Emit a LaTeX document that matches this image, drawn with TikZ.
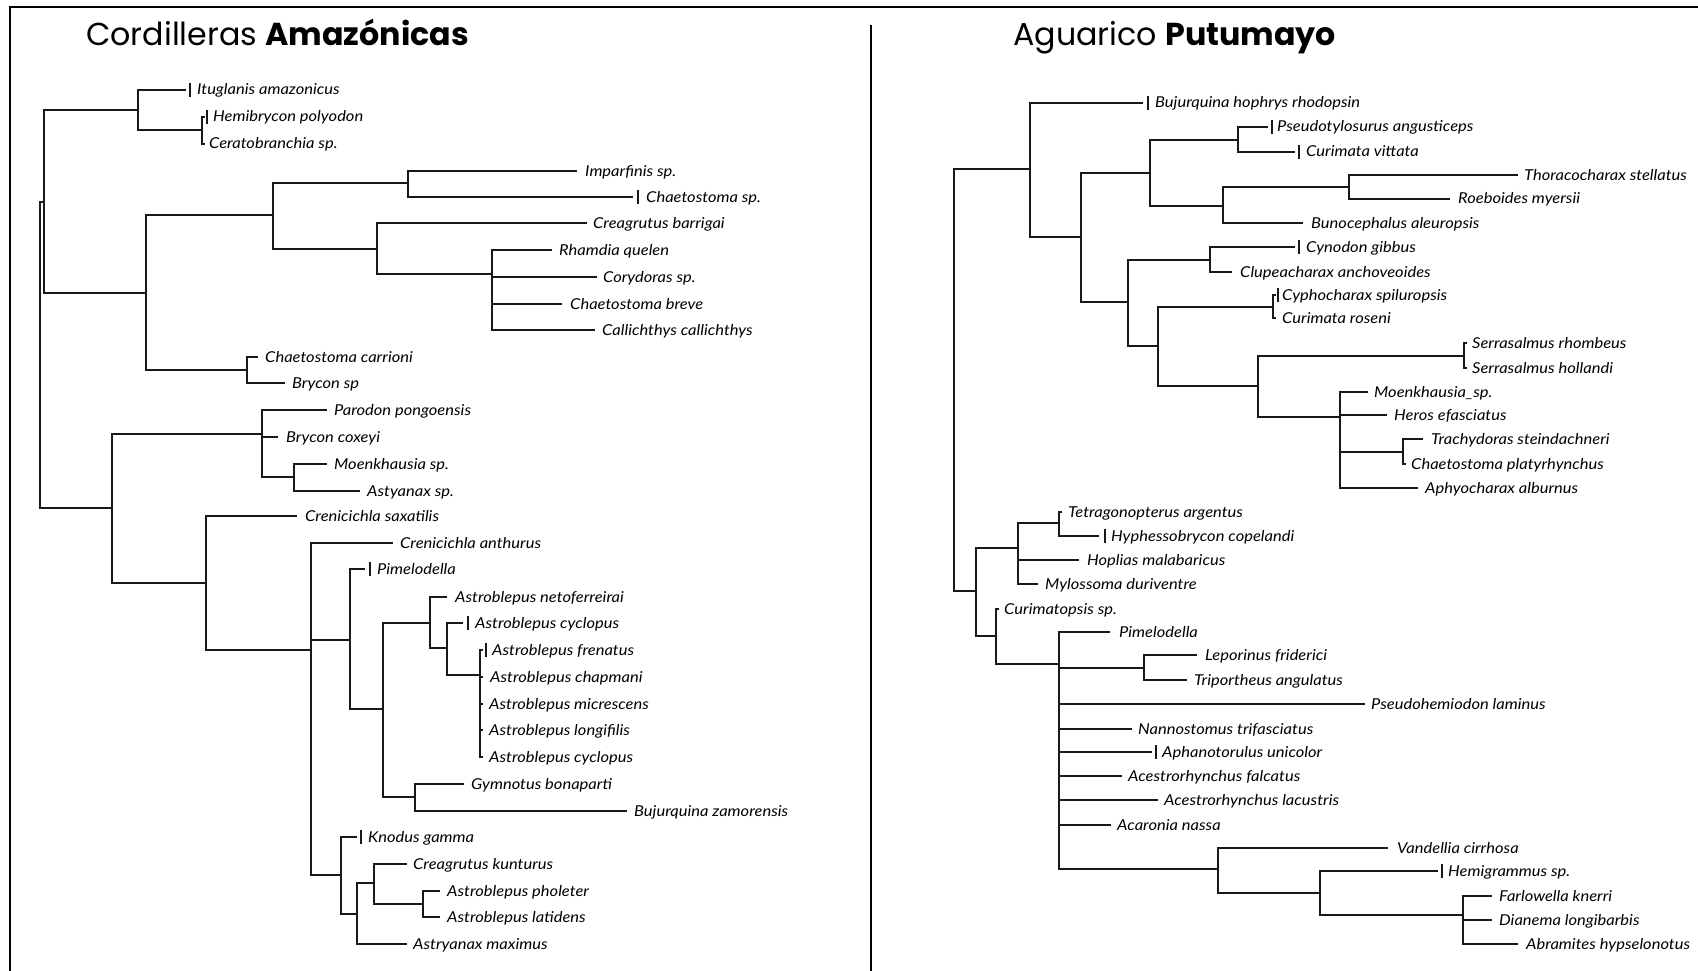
\documentclass[tikz,border=0pt]{standalone}
\usepackage{fontspec}
\newfontfamily\latofam[FakeStretch=1.1]{Lato}
\newfontfamily\poppfam{Poppins}
\newcommand{\leafX}[6]{\coordinate (#2e) at (#3,#4); \draw[br] (#1) |- (#2e); \node[lbl] (#2) at (#5,#4+5) {#6};}
\newcommand{\cladeX}[4]{\coordinate (#2) at (#3,#4); \draw[br] (#1) |- (#2);}
\newcommand{\tickX}[3]{\node[tickm] (#1) at (#2,#3) {};}
\begin{document}
\begin{tikzpicture}[x=1pt,y=-1pt,
  br/.style={line width=1.8pt, draw=black!90},
  frame/.style={line width=2.4pt, draw=black},
  lbl/.style={anchor=base west, inner sep=0pt, font=\latofam\itshape\fontsize{15}{17}\selectfont},
  tickm/.style={fill=black!90, inner sep=0pt, minimum width=1.8pt, minimum height=14pt, rectangle},
  ttl/.style={anchor=base west, inner sep=0pt, font=\poppfam\fontsize{31.7}{38}\selectfont}]
\useasboundingbox (0,0) rectangle (1698,971);
\fill[white] (0,0) rectangle (1698,971);
% frame
\coordinate (f1) at (10,971); \coordinate (f2) at (10,7); \coordinate (f3) at (1698,7);
\coordinate (d1) at (871,25); \coordinate (d2) at (871,971);
\draw[frame] (f1) -- (f2) -- (f3);
\draw[frame] (d1) -- (d2);
% titles
\node[ttl] (t1) at (86,46) {Cordilleras \textbf{Amazónicas}};
\node[ttl] (t2) at (1013,46) {Aguarico \textbf{Putumayo}};
% ================= left tree
\coordinate (R) at (40,355);
\cladeX{R}{A}{44}{202}
\cladeX{A}{B}{138}{110}
\leafX{B}{itu}{186}{90}{197}{Ituglanis amazonicus}
\tickX{k1}{190}{90}
\cladeX{B}{C}{202}{130}
\leafX{C}{hem}{205}{117}{213}{Hemibrycon polyodon}
\tickX{k2}{207}{117}
\leafX{C}{cer}{205}{144}{209}{Ceratobranchia sp.}
\cladeX{A}{D}{146}{293}
\cladeX{D}{E}{273}{215}
\cladeX{E}{F}{408}{183}
\leafX{F}{imp}{577}{171}{585}{Imparfinis sp.}
\leafX{F}{chs}{633}{197}{646}{Chaetostoma sp.}
\tickX{k3}{638}{197}
\cladeX{E}{G}{377}{249}
\leafX{G}{cba}{587}{223}{593}{Creagrutus barrigai}
\cladeX{G}{H}{492}{274}
\leafX{H}{rha}{552}{250}{559}{Rhamdia quelen}
\leafX{H}{cor}{597}{277}{603}{Corydoras sp.}
\leafX{H}{cbr}{562}{304}{570}{Chaetostoma breve}
\leafX{H}{cal}{595}{330}{602}{Callichthys callichthys}
\cladeX{D}{I}{247}{370}
\leafX{I}{cca}{258}{357}{265}{Chaetostoma carrioni}
\leafX{I}{bsp}{285}{383}{292}{Brycon sp}
\cladeX{R}{J}{112}{508}
\cladeX{J}{K}{262}{434}
\leafX{K}{par}{327}{410}{334}{Parodon pongoensis}
\leafX{K}{bco}{278}{437}{286}{Brycon coxeyi}
\cladeX{K}{L}{294}{477}
\leafX{L}{moe}{327}{464}{334}{Moenkhausia sp.}
\leafX{L}{ast}{360}{491}{367}{Astyanax sp.}
\cladeX{J}{M}{206}{583}
\leafX{M}{csa}{297}{516}{305}{Crenicichla saxatilis}
\cladeX{M}{N}{311}{650}
\leafX{N}{can}{393}{543}{400}{Crenicichla anthurus}
\cladeX{N}{O}{350}{640}
\leafX{O}{pim}{365}{569}{377}{Pimelodella}
\tickX{k4}{370}{569}
\cladeX{O}{P}{383}{709}
\cladeX{P}{Q}{430}{623}
\leafX{Q}{ane}{447}{597}{455}{Astroblepus netoferreirai}
\cladeX{Q}{S}{447}{648}
\leafX{S}{acy}{463}{623}{475}{Astroblepus cyclopus}
\tickX{k5}{468}{623}
\cladeX{S}{T}{480}{675}
\leafX{T}{afr}{483}{650}{492}{Astroblepus frenatus}
\tickX{k6}{486}{650}
\leafX{T}{ach}{483}{677}{490}{Astroblepus chapmani}
\leafX{T}{ami}{483}{704}{489}{Astroblepus micrescens}
\leafX{T}{alo}{483}{730}{489}{Astroblepus longifilis}
\leafX{T}{acz}{483}{757}{489}{Astroblepus cyclopus}
\cladeX{P}{U}{415}{797}
\leafX{U}{gym}{464}{784}{471}{Gymnotus bonaparti}
\leafX{U}{bza}{627}{811}{634}{Bujurquina zamorensis}
\cladeX{N}{V}{341}{875}
\leafX{V}{kno}{357}{837}{368}{Knodus gamma}
\tickX{k7}{361}{837}
\cladeX{V}{W}{357}{914}
\cladeX{W}{X}{374}{883}
\leafX{X}{cku}{407}{864}{413}{Creagrutus kunturus}
\cladeX{X}{Y}{423}{904}
\leafX{Y}{aph}{440}{891}{447}{Astroblepus pholeter}
\leafX{Y}{ala}{440}{917}{447}{Astroblepus latidens}
\leafX{W}{amx}{407}{944}{413}{Astryanax maximus}
% ================= right tree
\coordinate (RR) at (954,380);
\cladeX{RR}{A2}{1030}{169}
\leafX{A2}{bhr}{1143}{103}{1155}{Bujurquina hophrys rhodopsin}
\tickX{m1}{1148}{103}
\cladeX{A2}{B2}{1081}{237}
\cladeX{B2}{C2}{1150}{173}
\cladeX{C2}{D2}{1238}{140}
\leafX{D2}{pan}{1268}{127}{1277}{Pseudotylosurus angusticeps}
\tickX{m2}{1272}{127}
\leafX{D2}{cvi}{1295}{152}{1306}{Curimata vittata}
\tickX{m3}{1299}{152}
\cladeX{C2}{E2}{1223}{206}
\cladeX{E2}{F2}{1349}{187}
\leafX{F2}{tho}{1518}{175}{1524}{Thoracocharax stellatus}
\leafX{F2}{roe}{1450}{199}{1458}{Roeboides myersii}
\leafX{E2}{bun}{1303}{223}{1311}{Bunocephalus aleuropsis}
\cladeX{B2}{G2}{1128}{302}
\cladeX{G2}{H2}{1210}{260}
\leafX{H2}{cyn}{1295}{247}{1306}{Cynodon gibbus}
\tickX{m4}{1299}{247}
\leafX{H2}{clu}{1232}{272}{1240}{Clupeacharax anchoveoides}
\cladeX{G2}{I2}{1158}{346}
\cladeX{I2}{J2}{1273}{307}
\leafX{J2}{cyp}{1276}{295}{1282}{Cyphocharax spiluropsis}
\tickX{m5}{1278}{295}
\leafX{J2}{cro}{1276}{318}{1282}{Curimata roseni}
\cladeX{I2}{K2}{1258}{386}
\cladeX{K2}{L2}{1464}{356}
\leafX{L2}{srh}{1467}{343}{1472}{Serrasalmus rhombeus}
\leafX{L2}{sho}{1467}{368}{1472}{Serrasalmus hollandi}
\cladeX{K2}{M2}{1340}{417}
\leafX{M2}{mo2}{1368}{392}{1374}{Moenkhausia\_sp.}
\leafX{M2}{her}{1387}{415}{1394}{Heros efasciatus}
\cladeX{M2}{N2}{1403}{452}
\leafX{N2}{tra}{1423}{439}{1431}{Trachydoras steindachneri}
\leafX{N2}{cpl}{1406}{464}{1411}{Chaetostoma platyrhynchus}
\leafX{M2}{aal}{1418}{488}{1425}{Aphyocharax alburnus}
\cladeX{RR}{O2}{976}{591}
\cladeX{O2}{P2}{1018}{548}
\cladeX{P2}{Q2}{1059}{523}
\leafX{Q2}{tet}{1062}{512}{1068}{Tetragonopterus argentus}
\leafX{Q2}{hyp}{1099}{536}{1111}{Hyphessobrycon copelandi}
\tickX{m6}{1105}{536}
\leafX{P2}{hop}{1079}{560}{1087}{Hoplias malabaricus}
\leafX{P2}{myl}{1038}{584}{1045}{Mylossoma duriventre}
\cladeX{O2}{R2}{996}{636}
\leafX{R2}{cur}{999}{609}{1004}{Curimatopsis sp.}
\cladeX{R2}{S2}{1059}{664}
\leafX{S2}{pi2}{1110}{632}{1119}{Pimelodella}
\cladeX{S2}{T2}{1144}{668}
\leafX{T2}{lep}{1197}{655}{1205}{Leporinus friderici}
\leafX{T2}{tri}{1187}{680}{1194}{Triportheus angulatus}
\leafX{S2}{pse}{1365}{704}{1371}{Pseudohemiodon laminus}
\leafX{S2}{nan}{1132}{729}{1138}{Nannostomus trifasciatus}
\leafX{S2}{aun}{1152}{752}{1162}{Aphanotorulus unicolor}
\tickX{m7}{1156}{752}
\leafX{S2}{afa}{1122}{776}{1128}{Acestrorhynchus falcatus}
\leafX{S2}{ala2}{1158}{800}{1164}{Acestrorhynchus lacustris}
\leafX{S2}{aca}{1111}{825}{1117}{Acaronia nassa}
\cladeX{S2}{U2}{1218}{869}
\leafX{U2}{van}{1388}{848}{1397}{Vandellia cirrhosa}
\cladeX{U2}{V2}{1320}{893}
\leafX{V2}{hsp}{1438}{871}{1448}{Hemigrammus sp.}
\tickX{m8}{1442}{871}
\cladeX{V2}{W2}{1463}{915}
\leafX{W2}{far}{1492}{896}{1499}{Farlowella knerri}
\leafX{W2}{dia}{1492}{920}{1499}{Dianema longibarbis}
\leafX{W2}{abr}{1518}{944}{1526}{Abramites hypselonotus}
\end{tikzpicture}
\end{document}
